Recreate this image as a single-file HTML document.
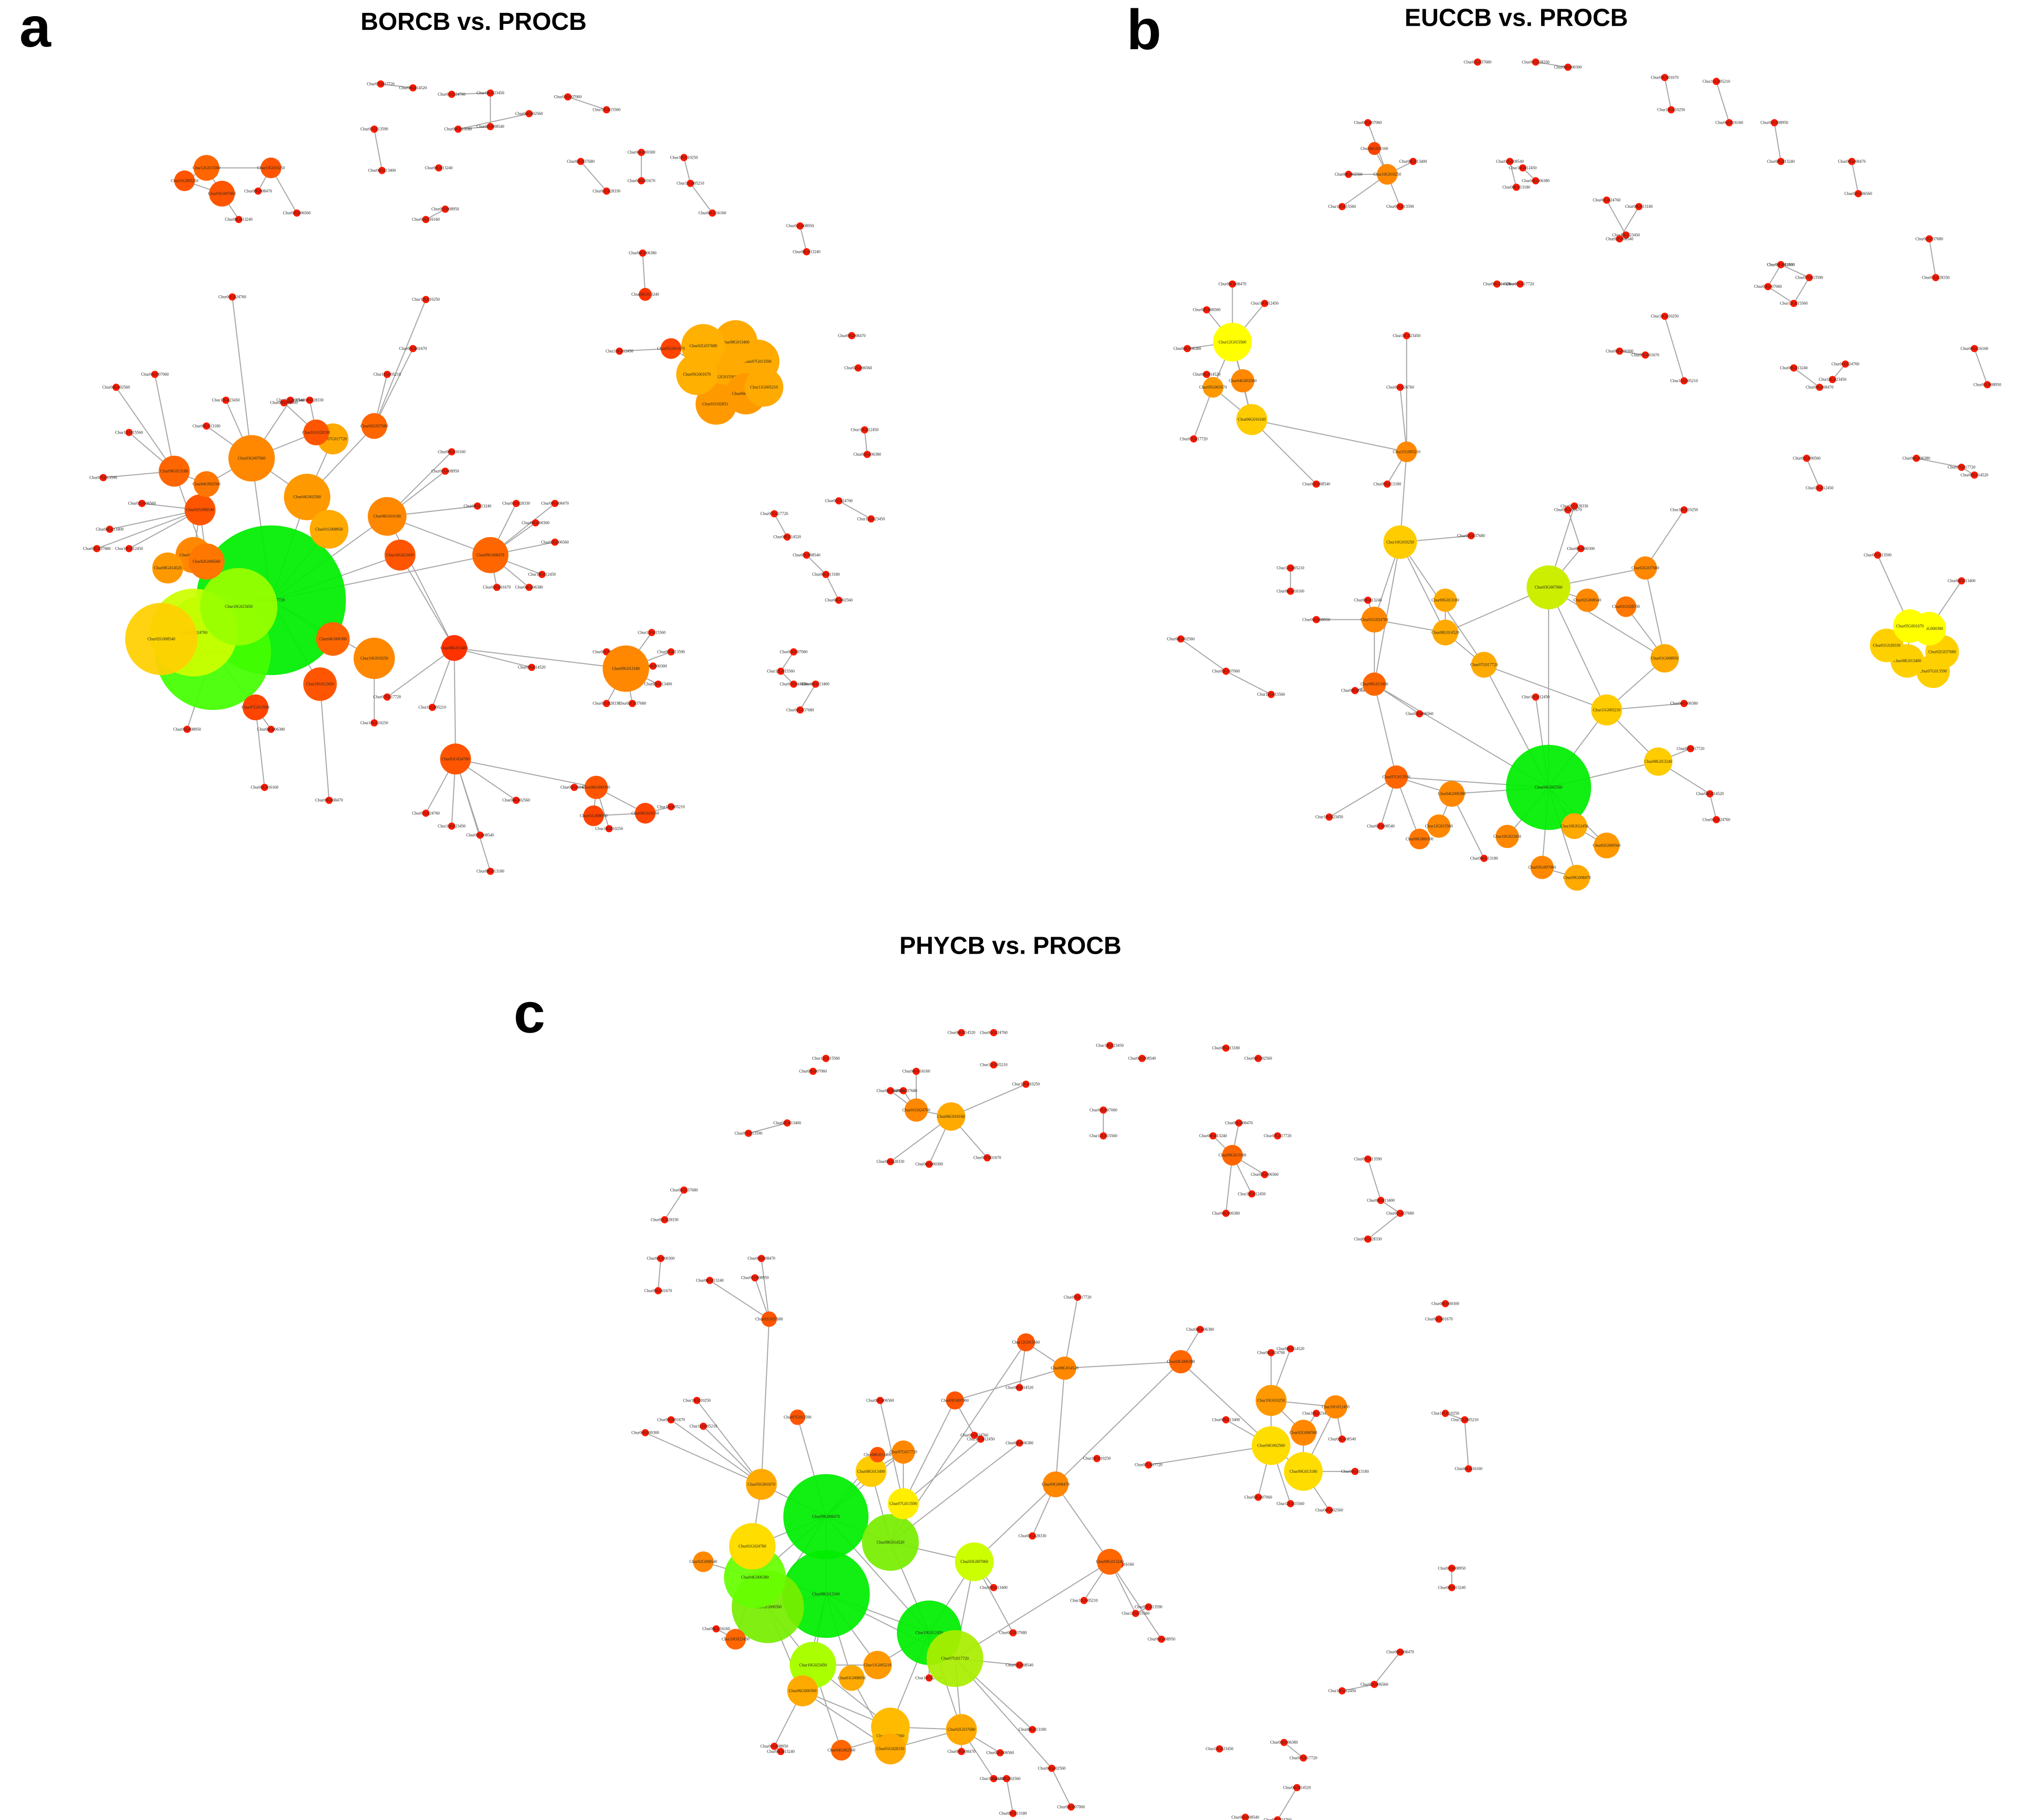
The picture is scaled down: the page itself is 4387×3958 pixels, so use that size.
<!DOCTYPE html>
<html><head><meta charset="utf-8"><style>
html,body{margin:0;padding:0;background:#fff;}
svg{display:block;}
text{font-family:"Liberation Serif",serif;}
.t{font-family:"Liberation Sans",sans-serif;font-weight:bold;}
</style></head><body>
<svg id="chart" width="4387" height="3958" viewBox="0 0 1563 1410" xmlns="http://www.w3.org/2000/svg">
<g>
<text class="t" x="15" y="36" font-size="44">a</text>
<text class="t" x="367" y="23" font-size="19" text-anchor="middle">BORCB vs. PROCB</text>
</g>
<g>
<text class="t" x="873" y="38" font-size="44">b</text>
<text class="t" x="1175" y="20" font-size="19" text-anchor="middle">EUCCB vs. PROCB</text>
</g>
<g>
<text class="t" x="398" y="800" font-size="44">c</text>
<text class="t" x="783" y="739" font-size="19" text-anchor="middle">PHYCB vs. PROCB</text>
</g>
<g id="net"></g>
</svg>
<script>
// hubs: [x, y, radius, colour]; smalls: [x, y, parent] (parent = hub index, -1 none, -2 previous small)
const hubsA=[[210,465,58,"#00ee00"],[165,505,45,"#44ff00"],[150,490,34,"#ccff00"],[125,495,28,"#ffd000"],[185,470,30,"#99ff00"],
[160,435,14,"#ff7700"],[195,355,18,"#ff8800"],[238,385,18,"#ff9900"],[255,410,15,"#ffaa00"],[300,400,15,"#ff8800"],
[135,365,12,"#ff6600"],[155,395,12,"#ff5500"],[245,335,10,"#ff5500"],[290,330,10,"#ff6600"],[380,430,14,"#ff6600"],
[310,430,12,"#ff5500"],[352,502,10,"#ff3300"],[290,510,16,"#ff8800"],[258,495,13,"#ff6600"],[248,530,13,"#ff5500"],
[198,548,10,"#ff4400"],[353,588,12,"#ff5500"],[485,518,18,"#ff8800"],[462,610,9,"#ff5500"],[460,632,8,"#ff4400"],
[500,630,8,"#ff4400"],[160,130,10,"#ff6600"],[172,150,10,"#ff5500"],[143,140,8,"#ff5500"],[210,130,8,"#ff5500"],
[545,268,17,"#ffb000"],[570,265,17,"#ffaa00"],[587,280,17,"#ffaa00"],[560,292,17,"#ffaa00"],[540,290,16,"#ffb000"],
[578,305,16,"#ff9900"],[555,313,16,"#ff9900"],[592,300,15,"#ffaa00"],[150,430,14,"#ff8800"],[130,440,12,"#ff9900"],
[258,340,12,"#ffaa00"],[520,270,8,"#ff4400"],[500,228,5,"#ff3300"],[160,375,10,"#ff7700"]];
const smallsA=[[180,230,6],[175,310,6],[225,310,6],[160,330,6],[90,300,10],[120,290,10],[100,335,10],[80,370,10],[85,410,11],[75,425,11],
[240,310,12],[220,312,12],[320,270,13],[330,232,13],[300,290,13],[350,350,9],[345,365,9],[370,392,9],[430,390,14],[430,420,14],[420,445,14],[410,455,14],
[300,540,16],[412,517,16],[330,630,21],[350,640,21],[372,647,21],[380,675,21],[400,620,21],[470,505,22],[505,490,22],[520,505,22],[510,530,22],[490,545,22],[470,545,22],[506,516,22],
[445,610,23],[472,642,23],[520,625,25],[205,610,20],[145,565,1],[185,170,27],[200,148,29],[230,165,29],[480,272,41],[498,196,42],
[295,65,-1],[320,68,-2],[350,73,-1],[380,72,-2],[380,98,-2],[355,100,-2],[410,88,-2],[440,75,-1],[470,85,-2],[290,100,-1],[296,132,-2],
[450,125,-1],[470,148,-2],[497,118,-1],[497,140,-2],[530,122,-1],[535,142,-2],[552,165,-2],[620,175,-1],[625,195,-2],[660,260,-1],[665,285,-1],[670,333,-1],[672,352,-2],
[600,398,-1],[610,416,-2],[650,388,-1],[675,402,-2],[625,430,-1],[640,445,-2],[650,465,-2],[615,505,-1],[605,520,-2],[615,530,-2],[632,530,-2],[620,550,-2],
[400,390,14],[415,405,14],[385,455,14],[290,560,17],[335,548,16],[330,170,-1],[345,162,-2],[340,130,-1],[255,620,19],[110,390,11],[100,425,11],[210,565,20]];
const hubEdgesA=[[0,1],[0,2],[0,4],[0,5],[0,6],[0,7],[0,8],[0,9],[0,14],[0,15],[0,17],[0,18],[0,19],[1,20],[5,10],[5,11],[6,12],[7,13],[9,14],[16,15],[16,21],[16,22],[21,23],[23,24],[23,25],[24,25],[26,27],[26,28],[27,28],[26,29],
[30,31],[31,32],[32,33],[33,34],[34,30],[35,36],[36,33],[37,35],[33,41],[38,0],[39,38],[40,7],[43,10],[6,43],[11,38],[9,16],[2,3],[7,8],[6,7]];

const hubsB=[[1200,610,33,"#00ee00"],[1200,455,17,"#ccee00"],[1085,420,13,"#ffcc00"],[955,265,15,"#ffff00"],[970,325,12,"#ffcc00"],
[1065,480,10,"#ff8800"],[1120,490,10,"#ffaa00"],[1150,515,10,"#ffaa00"],[1245,550,12,"#ffcc00"],[1285,590,11,"#ffcc00"],
[1290,510,11,"#ffaa00"],[1275,440,9,"#ff8800"],[1065,530,9,"#ff6600"],[1082,602,9,"#ff6600"],[1125,615,10,"#ff8800"],
[1115,640,9,"#ff8800"],[1220,640,10,"#ffaa00"],[1245,655,10,"#ff9900"],[1195,672,9,"#ff8800"],[1222,680,10,"#ffaa00"],
[1090,350,8,"#ff8800"],[1075,135,8,"#ff8800"],[1065,115,5,"#ff4400"],[963,295,9,"#ff8800"],[940,300,8,"#ff9900"],
[1480,485,13,"#ffff00"],[1495,487,13,"#ffff00"],[1462,500,13,"#ffd000"],[1505,505,13,"#ffd000"],[1478,512,13,"#ffd000"],[1498,520,13,"#ffd000"],
[1120,465,9,"#ffaa00"],[1230,465,9,"#ff8800"],[1100,650,8,"#ff7700"],[1260,470,8,"#ff7700"],[1168,648,9,"#ff8800"]];
const smallsB=[[955,220,3],[935,240,3],[980,235,3],[920,270,3],[925,340,24],[935,290,24],[1085,300,20],[1090,260,20],[1020,375,4],[1075,375,20],
[1045,135,21],[1060,95,21],[1040,160,21],[1085,160,21],[1095,125,21],[1140,415,2],[1220,392,1],[1225,425,1],[1215,395,-2],[1305,395,11],
[1000,440,-1],[1000,458,-2],[1020,480,5],[1060,465,5],[1050,535,12],[1100,553,12],[1190,540,0],[1305,545,8],[1310,580,9],[1325,615,9],[1330,635,-2],
[1030,633,13],[1070,640,13],[1150,665,14],[915,495,-1],[950,520,-2],[985,538,-2],[1455,430,25],[1520,450,26],
[1145,48,-1],[1190,48,-1],[1215,52,-2],[1290,60,-1],[1295,85,-2],[1330,63,-1],[1340,95,-2],[1375,95,-1],[1380,125,-2],[1435,125,-1],[1440,150,-2],
[1180,130,-1],[1190,140,-2],[1178,220,-1],[1160,220,-2],[1245,155,-1],[1260,182,-2],[1255,185,-2],[1270,160,-2],[1380,205,-1],[1370,222,-2],[1390,235,-2],[1402,215,-2],[1380,205,-2],
[1495,185,-1],[1500,215,-2],[1255,272,-1],[1275,275,-2],[1290,245,-1],[1305,295,-2],[1530,270,-1],[1540,298,-2],[1390,285,-1],[1410,300,-2],[1400,355,-1],[1410,378,-2],[1485,355,-1],[1520,362,-2],[1530,368,-2],[1430,282,-1],[1420,294,-2],
[1170,125,-1],[1175,145,-2]];
const hubEdgesB=[[0,1],[0,7],[0,8],[0,9],[0,13],[0,14],[0,16],[0,17],[0,18],[0,19],[0,12],[1,6],[1,8],[1,10],[1,11],[2,5],[2,6],[2,20],[2,7],[3,4],[3,23],[3,24],[4,23],[4,24],[4,20],[5,12],[5,6],[6,7],[7,8],[8,9],[8,10],[10,11],[12,13],[13,14],[14,15],[16,17],[18,19],[21,22],[10,34],[31,6],[32,1],[33,13],[35,0],[25,26],[25,27],[26,28],[27,29],[28,30],[29,30],[25,29],[26,30],[12,2]];

const hubsC=[[640,1175,33,"#00ee00"],[640,1235,34,"#00ee00"],[595,1245,28,"#77ee00"],[585,1222,24,"#66ff00"],[720,1265,25,"#00ee00"],
[690,1195,22,"#77ee00"],[740,1285,22,"#aaee00"],[755,1210,15,"#ccff00"],[630,1290,18,"#aaff00"],[583,1198,18,"#ffdd00"],
[985,1120,15,"#ffdd00"],[1010,1140,15,"#ffdd00"],[985,1085,12,"#ff9900"],[1010,1110,10,"#ff8800"],[818,1150,10,"#ff8800"],
[590,1150,12,"#ffaa00"],[622,1310,12,"#ffaa00"],[690,1338,15,"#ffbb00"],[690,1355,12,"#ffaa00"],[745,1340,12,"#ffaa00"],
[737,865,11,"#ffaa00"],[710,860,9,"#ff8800"],[825,1060,9,"#ff8800"],[652,1356,8,"#ff6600"],[860,1210,10,"#ff6600"],
[675,1140,12,"#ffcc00"],[700,1125,9,"#ff8800"],[915,1055,9,"#ff6600"],[955,895,8,"#ff6600"],[700,1165,12,"#ffee00"],
[795,1040,7,"#ff5500"],[740,1085,7,"#ff5500"],[545,1210,8,"#ff8800"],[570,1270,8,"#ff6600"],[680,1290,11,"#ff9900"],
[660,1300,10,"#ffaa00"],[596,1022,6,"#ff5500"],[680,1127,6,"#ff5500"],[618,1098,6,"#ff5500"],[1035,1090,9,"#ff8800"],[690,1345,14,"#ffbb00"]];
const smallsC=[[585,990,36],[550,992,36],[590,975,36],[682,1085,29],[760,1115,29],[790,1118,5],[835,1005,22],[790,1075,30],[755,1112,31],
[720,1300,4],[790,1290,6],[800,1340,6],[815,1370,6],[830,1400,-2],[880,1250,24],[890,1245,-2],[770,1230,7],[785,1265,7],[800,1190,14],
[500,1110,15],[520,1100,15],[540,1085,15],[545,1105,15],[555,1262,33],[600,1353,16],[605,1357,-2],[745,1357,19],[775,1358,19],[770,1378,19],
[930,1030,27],[890,1135,10],[1000,1045,12],[985,1048,12],[1020,1095,13],[1040,1115,39],[1050,1140,11],[1030,1170,11],[975,1160,10],[1000,1165,10],
[915,1055,22],[950,1100,10],[700,845,21],[690,900,20],[720,902,20],[765,897,20],[795,840,20],[770,825,-1],[710,830,21],[690,845,21],
[940,880,28],[960,870,28],[980,910,28],[970,925,28],[950,940,28],[990,880,-1],
[745,800,-1],[770,800,-1],[860,810,-1],[885,820,-1],[950,812,-1],[975,820,-1],[855,860,-1],[855,880,-2],[1060,898,-1],[1070,930,-2],[1085,940,-2],[1060,960,-2],
[1120,1010,-1],[1115,1022,-1],[1120,1095,-1],[1135,1100,-2],[1138,1138,-2],[1125,1215,-1],[1125,1230,-2],[1085,1280,-1],[1065,1305,-2],[1040,1310,-2],
[995,1350,-1],[1010,1362,-2],[1005,1385,-1],[990,1410,-2],[945,1355,-1],[965,1408,-1],[785,1405,-1],[780,1378,-2],
[630,830,-1],[640,820,-1],[580,878,-1],[610,870,-2],[530,922,-1],[515,945,-2],[512,975,-1],[510,1000,-2],[850,1130,-1],[840,1240,24],[868,1212,24],[900,1270,24]];
const hubEdgesC=[[0,1],[0,2],[0,3],[0,4],[0,5],[0,9],[0,15],[0,25],[0,26],[1,2],[1,3],[1,4],[1,8],[1,34],[1,35],[1,16],[2,3],[2,8],[2,9],[3,9],[3,32],[3,33],[4,5],[4,6],[4,7],[4,17],[4,19],[4,34],[5,7],[5,29],[5,25],[6,7],[6,19],[6,24],[7,14],[8,16],[8,17],[8,23],[16,17],[16,18],[17,19],[18,19],[17,40],[40,23],[14,22],[14,27],[22,30],[22,31],[27,10],[10,11],[10,12],[12,13],[11,13],[12,39],[39,11],[20,21],[15,36],[38,0],[37,0],[26,25],[31,29],[35,18],[8,34],[14,24],[30,5],[1,6],[2,16],[9,15],[29,26]];

const labels=["Cbur01G024760","Cbur10G023450","Cbur02G008540","Cbur09G013180","Cbur04G002560","Cbur03G007060","Cbur12G015560","Cbur07G013590","Cbur08G013400","Cbur02G037680","Cbur01G028330","Cbur06G000300","Cbur05G001670","Cbur10G010250","Cbur11G005210","Cbur06G016160","Cbur01G008950","Cbur08G013240","Cbur09G008470","Cbur02G006560","Cbur10G012450","Cbur04G006380","Cbur07G017720","Cbur08G014520"];

const NS="http://www.w3.org/2000/svg";
const net=document.getElementById('net');
const edgesG=document.createElementNS(NS,'g');


const nodesG=document.createElementNS(NS,'g');


net.appendChild(edgesG);net.appendChild(nodesG);
let li=0;
function line(a,b){
  const l=document.createElementNS(NS,'line');
  
  
  l.setAttribute('x1',a[0]);l.setAttribute('y1',a[1]);l.setAttribute('x2',b[0]);l.setAttribute('y2',b[1]);
  l.setAttribute('stroke','#a8a8a8');l.setAttribute('stroke-width','0.8');
  edgesG.appendChild(l);
}
function node(p,r,c){
  const g=document.createElementNS(NS,'g');
  
  
  const ci=document.createElementNS(NS,'circle');
  ci.setAttribute('cx',p[0]);ci.setAttribute('cy',p[1]);ci.setAttribute('r',r);ci.setAttribute('fill',c);ci.setAttribute('fill-opacity',r>20?'0.93':'1');
  g.appendChild(ci);
  const t=document.createElementNS(NS,'text');
  
  
  t.setAttribute('x',p[0]);t.setAttribute('y',p[1]+1);t.setAttribute('font-size','3.2');t.setAttribute('text-anchor','middle');t.setAttribute('fill','#222');
  t.textContent=labels[li++%labels.length];
  g.appendChild(t);
  nodesG.appendChild(g);
}
function draw(hubs,smalls,hubEdges){
  hubEdges.forEach(e=>line(hubs[e[0]],hubs[e[1]]));
  smalls.forEach((s,i)=>{
    if(s[2]>=0) line(s,hubs[s[2]]);
    else if(s[2]===-2 && i>0) line(s,smalls[i-1]);
  });
  smalls.forEach(s=>node(s,2.8,"#ff1a00"));
  const order=hubs.map((h,i)=>i).sort((a,b)=>hubs[a][2]-hubs[b][2]);
  order.reverse().forEach(i=>node(hubs[i],hubs[i][2],hubs[i][3]));
}
draw(hubsA,smallsA,hubEdgesA);
draw(hubsB,smallsB,hubEdgesB);
draw(hubsC,smallsC,hubEdgesC);
</script>
</body></html>
